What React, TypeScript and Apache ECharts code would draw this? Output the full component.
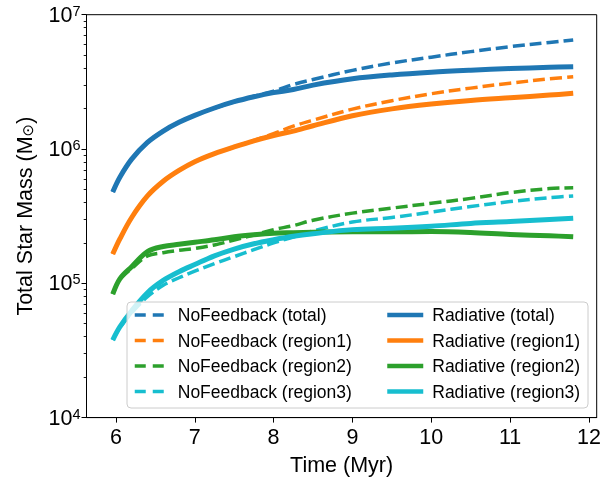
import React, { useEffect, useRef } from "react";
import * as echarts from "echarts";

const FONT = "'Liberation Sans', Arial, Helvetica, sans-serif";

// Time (Myr)
const TIME = [5.96, 6.05, 6.2, 6.4, 6.6, 6.8, 7.0, 7.25, 7.5, 7.75, 8.0, 8.25, 8.5, 9.0, 9.5, 10.0, 10.5, 11.0, 11.5, 11.8];

// Total star mass (Msun)
const NF_TOTAL = [4.79e5, 6.17e5, 8.41e5, 1.12e6, 1.36e6, 1.58e6, 1.78e6, 2.02e6, 2.25e6, 2.47e6, 2.70e6, 3.02e6, 3.29e6, 3.85e6, 4.37e6, 4.83e6, 5.31e6, 5.78e6, 6.21e6, 6.49e6];
const NF_REGION1 = [1.65e5, 2.14e5, 3.09e5, 4.47e5, 5.75e5, 6.92e5, 8.04e5, 9.23e5, 1.035e6, 1.16e6, 1.30e6, 1.48e6, 1.64e6, 1.98e6, 2.29e6, 2.58e6, 2.84e6, 3.09e6, 3.33e6, 3.45e6];
const NF_REGION2 = [8.3e4, 1.07e5, 1.29e5, 1.60e5, 1.69e5, 1.76e5, 1.82e5, 1.93e5, 2.10e5, 2.29e5, 2.51e5, 2.69e5, 2.95e5, 3.33e5, 3.63e5, 3.94e5, 4.29e5, 4.73e5, 5.07e5, 5.15e5];
const NF_REGION3 = [3.78e4, 4.68e4, 6.03e4, 7.94e4, 9.66e4, 1.10e5, 1.23e5, 1.40e5, 1.58e5, 1.78e5, 2.00e5, 2.21e5, 2.45e5, 2.86e5, 3.09e5, 3.39e5, 3.73e5, 4.06e5, 4.34e5, 4.47e5];

const RAD_TOTAL = [4.79e5, 6.17e5, 8.41e5, 1.12e6, 1.36e6, 1.58e6, 1.78e6, 2.02e6, 2.25e6, 2.45e6, 2.63e6, 2.77e6, 2.99e6, 3.33e6, 3.56e6, 3.73e6, 3.86e6, 3.97e6, 4.06e6, 4.10e6];
const RAD_REGION1 = [1.65e5, 2.14e5, 3.09e5, 4.47e5, 5.75e5, 6.92e5, 8.04e5, 9.23e5, 1.035e6, 1.15e6, 1.26e6, 1.36e6, 1.49e6, 1.77e6, 1.99e6, 2.16e6, 2.30e6, 2.41e6, 2.52e6, 2.60e6];
const RAD_REGION2 = [8.3e4, 1.08e5, 1.33e5, 1.72e5, 1.88e5, 1.95e5, 2.02e5, 2.11e5, 2.22e5, 2.30e5, 2.36e5, 2.38e5, 2.40e5, 2.42e5, 2.42e5, 2.43e5, 2.39e5, 2.31e5, 2.26e5, 2.22e5];
const RAD_REGION3 = [3.78e4, 4.73e4, 6.24e4, 8.51e4, 1.05e5, 1.22e5, 1.38e5, 1.60e5, 1.80e5, 1.97e5, 2.11e5, 2.24e5, 2.34e5, 2.51e5, 2.57e5, 2.66e5, 2.79e5, 2.88e5, 2.99e5, 3.05e5];

const X_TICKS = [6, 7, 8, 9, 10, 11, 12];
const Y_DECADES = [4, 5, 6];
const Y_MINOR_MULT = [2, 3, 4, 5, 6, 7, 8, 9];

const NF_NAMES = ["NoFeedback (total)", "NoFeedback (region1)", "NoFeedback (region2)", "NoFeedback (region3)"];
const RAD_NAMES = ["Radiative (total)", "Radiative (region1)", "Radiative (region2)", "Radiative (region3)"];
const COLORS = ["#1f77b4", "#ff7f0e", "#2ca02c", "#17becf"];

export default function App() {
  const ref = useRef<HTMLDivElement>(null);
  useEffect(() => {
    const chart = echarts.init(ref.current!, null, { renderer: "svg" });
    const mk = (name: string, vals: number[], color: string, dashed: boolean) => ({
      name,
      type: "line",
      data: TIME.map((t, i) => [t, vals[i]]),
      symbol: "none",
      showSymbol: false,
      smooth: 0.35,
      lineStyle: { color, width: dashed ? 3.5 : 5, type: dashed ? [12, 5] : "solid", cap: "butt", join: "round" },
      itemStyle: { color },
      z: dashed ? 2 : 3,
    });
    const nf = [NF_TOTAL, NF_REGION1, NF_REGION2, NF_REGION3];
    const rad = [RAD_TOTAL, RAD_REGION1, RAD_REGION2, RAD_REGION3];
    const series: any[] = [];
    nf.forEach((v, i) => series.push(mk(NF_NAMES[i], v, COLORS[i], true)));
    rad.forEach((v, i) => series.push(mk(RAD_NAMES[i], v, COLORS[i], false)));

    const minor: number[] = [];
    Y_DECADES.forEach((d) => Y_MINOR_MULT.forEach((m) => minor.push(d + Math.log10(m))));

    const legendCommon = {
      orient: "vertical",
      top: 305,
      padding: 0,
      itemGap: 5.5,
      itemHeight: 20,
      z: 10,
      itemStyle: { opacity: 0, borderWidth: 0 },
    };
    const legendText = (padLeft: number) => ({
      fontSize: 17.5,
      color: "#000",
      fontFamily: FONT,
      padding: [0, 0, 0, padLeft],
      lineHeight: 20,
    });

    chart.setOption({
      animation: false,
      textStyle: { fontFamily: FONT },
      grid: { left: 86.5, right: 12.3, top: 14.7, bottom: 65.4, show: true, borderColor: "#000", borderWidth: 1, containLabel: false },
      graphic: [
        {
          type: "rect",
          z: 5,
          shape: { x: 127, y: 302, width: 461, height: 106, r: 4 },
          style: { fill: "rgba(255,255,255,0.8)", stroke: "#cccccc", lineWidth: 1 },
        },
      ],
      legend: [
        {
          ...legendCommon,
          left: 133,
          itemWidth: 29,
          data: NF_NAMES,
          textStyle: legendText(9),
          lineStyle: { width: 3.5, type: [11, 7], cap: "butt" },
        },
        {
          ...legendCommon,
          left: 385,
          itemWidth: 36,
          data: RAD_NAMES,
          textStyle: legendText(4),
          lineStyle: { width: 4.5, type: "solid", cap: "butt" },
        },
      ],
      xAxis: {
        type: "value",
        min: 5.627,
        max: 12.098,
        name: "Time (Myr)",
        nameLocation: "middle",
        nameGap: 36,
        nameTextStyle: { fontSize: 21.5, color: "#000", fontFamily: FONT },
        axisLine: { show: true, lineStyle: { color: "#000", width: 1 } },
        axisTick: { show: true, inside: false, length: 5, customValues: X_TICKS, lineStyle: { color: "#000", width: 1 } },
        axisLabel: { customValues: X_TICKS, fontSize: 21.5, color: "#000", margin: 8, fontFamily: FONT },
        splitLine: { show: false },
      },
      yAxis: [
        {
          type: "log",
          logBase: 10,
          min: 1e4,
          max: 1e7,
          name: "Total Star Mass (M{sub|⊙})",
          nameLocation: "middle",
          nameGap: 51,
          nameRotate: 90,
          nameTextStyle: {
            fontSize: 21.5,
            color: "#000",
            fontFamily: FONT,
            rich: { sub: { fontSize: 15, color: "#000", fontFamily: "DejaVu Sans", verticalAlign: "bottom" } },
          },
          axisLine: { show: true, lineStyle: { color: "#000", width: 1 } },
          axisTick: { show: true, inside: false, length: 5, lineStyle: { color: "#000", width: 1 } },
          axisLabel: {
            margin: 6,
            formatter: (v: number) => `{b|10}{s|${Math.round(Math.log10(v))}}`,
            rich: {
              b: { fontSize: 21.5, lineHeight: 23, color: "#000", fontFamily: FONT },
              s: { fontSize: 14.5, color: "#000", fontFamily: FONT, verticalAlign: "top" },
            },
          },
          splitLine: { show: false },
          minorTick: { show: false },
        },
        {
          type: "value",
          min: 4,
          max: 7,
          position: "left",
          axisLine: { show: false },
          axisLabel: { show: false },
          splitLine: { show: false },
          axisTick: { show: true, inside: false, length: 2.8, customValues: minor, lineStyle: { color: "#000", width: 0.9 } },
        },
      ],
      series,
    });
    return () => chart.dispose();
  }, []);
  return <div ref={ref} style={{ position: "fixed", left: 0, top: 0, width: 609, height: 483 }} />;
}
